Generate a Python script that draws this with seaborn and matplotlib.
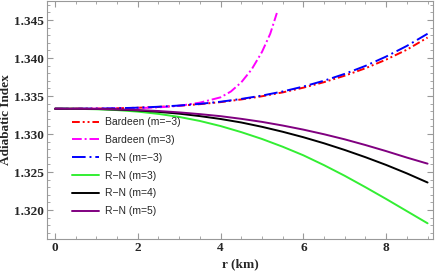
import numpy as np
import pandas as pd
import matplotlib.pyplot as plt
import seaborn as sns
from matplotlib.ticker import MultipleLocator, FormatStrFormatter

# values
r = [0, 0.5, 1, 1.5, 2, 2.5, 3, 3.5, 4, 4.5, 5, 5.5, 6, 6.5, 7, 7.5, 8, 8.5, 9]
bardeen_m_neg3 = [1.33333, 1.33333, 1.33335, 1.33339, 1.33346, 1.33357, 1.33372, 1.33393, 1.33420,
                  1.33455, 1.33497, 1.33548, 1.33610, 1.33683, 1.33768, 1.33866, 1.33980, 1.34110, 1.34270]
rn_m_neg3 = [1.33333, 1.33333, 1.33335, 1.33339, 1.33347, 1.33359, 1.33375, 1.33397, 1.33425,
             1.33462, 1.33506, 1.33560, 1.33625, 1.33702, 1.33792, 1.33897, 1.34020, 1.34160, 1.34320]
rn_m3 = [1.33333, 1.33332, 1.33326, 1.33315, 1.33295, 1.33265, 1.33225, 1.33172, 1.33105,
         1.33025, 1.32935, 1.32833, 1.32720, 1.32590, 1.32450, 1.32300, 1.32145, 1.31985, 1.31825]
rn_m4 = [1.33333, 1.33333, 1.33330, 1.33322, 1.33310, 1.33292, 1.33268, 1.33236, 1.33198,
         1.33152, 1.33095, 1.33030, 1.32958, 1.32878, 1.32790, 1.32695, 1.32593, 1.32482, 1.32362]
rn_m5 = [1.33333, 1.33333, 1.33331, 1.33325, 1.33316, 1.33303, 1.33285, 1.33262, 1.33235,
         1.33200, 1.33160, 1.33112, 1.33058, 1.32997, 1.32930, 1.32855, 1.32775, 1.32690, 1.32610]
r_b3 = [0, 0.5, 1, 1.5, 2, 2.5, 3, 3.5, 4, 4.25, 4.5, 4.75, 5, 5.2, 5.36]
bardeen_m3 = [1.33333, 1.33333, 1.33334, 1.33336, 1.33341, 1.33351, 1.33371, 1.33413, 1.33483,
              1.33560, 1.33680, 1.33850, 1.34080, 1.34320, 1.34593]

series = [
    ("Bardeen (m=\u22123)", r, bardeen_m_neg3, "red", (0, (4, 1.5, 1, 1.5, 1, 1.5))),
    ("Bardeen (m=3)", r_b3, bardeen_m3, "magenta", (0, (5, 1.5, 1, 1.5))),
    ("R\u2212N (m=\u22123)", r, rn_m_neg3, "blue", (0, (7, 2, 1, 2))),
    ("R\u2212N (m=3)", r, rn_m3, "#33ee33", "-"),
    ("R\u2212N (m=4)", r, rn_m4, "black", "-"),
    ("R\u2212N (m=5)", r, rn_m5, "purple", "-"),
]

sns.set_style("ticks")
plt.rcParams['font.family'] = ['Liberation Serif', 'DejaVu Serif']

fig = plt.figure(figsize=(4.36, 2.73), dpi=100)
ax = fig.add_axes([0.108, 0.125, 0.885, 0.873])

for name, xs, ys, color, ls in series:
    df = pd.DataFrame({'r': xs, 'gamma': ys})
    sns.lineplot(data=df, x='r', y='gamma', ax=ax, color=color, linestyle=ls,
                 linewidth=1.4, label=name)

ax.set_xlim(-0.19, 9.13)
ax.set_ylim(1.3162, 1.34757)
ax.xaxis.set_major_locator(MultipleLocator(2))
ax.xaxis.set_minor_locator(MultipleLocator(0.5))
ax.yaxis.set_major_locator(MultipleLocator(0.005))
ax.yaxis.set_minor_locator(MultipleLocator(0.001))
ax.yaxis.set_major_formatter(FormatStrFormatter('%.3f'))
ax.tick_params(which='both', direction='in', top=True, right=True, color='#999999')
ax.tick_params(which='major', length=4, labelsize=9.5, pad=2)
ax.tick_params(which='minor', length=2)
for lab in ax.get_xticklabels() + ax.get_yticklabels():
    lab.set_fontweight('bold')
for sp in ax.spines.values():
    sp.set_color('#999999')
    sp.set_linewidth(0.8)

ax.set_xlabel('r (km)', fontsize=9.5, fontweight='bold', labelpad=3)
ax.set_ylabel('Adiabatic Index', fontsize=9.5, fontweight='bold', labelpad=2)

leg = ax.legend(loc='upper left', bbox_to_anchor=(0.04, 0.55), frameon=False,
                prop={'family': 'Liberation Sans', 'size': 7.5},
                handlelength=2.6, labelspacing=0.75, handletextpad=0.6)

fig.savefig('out.png', dpi=100)
